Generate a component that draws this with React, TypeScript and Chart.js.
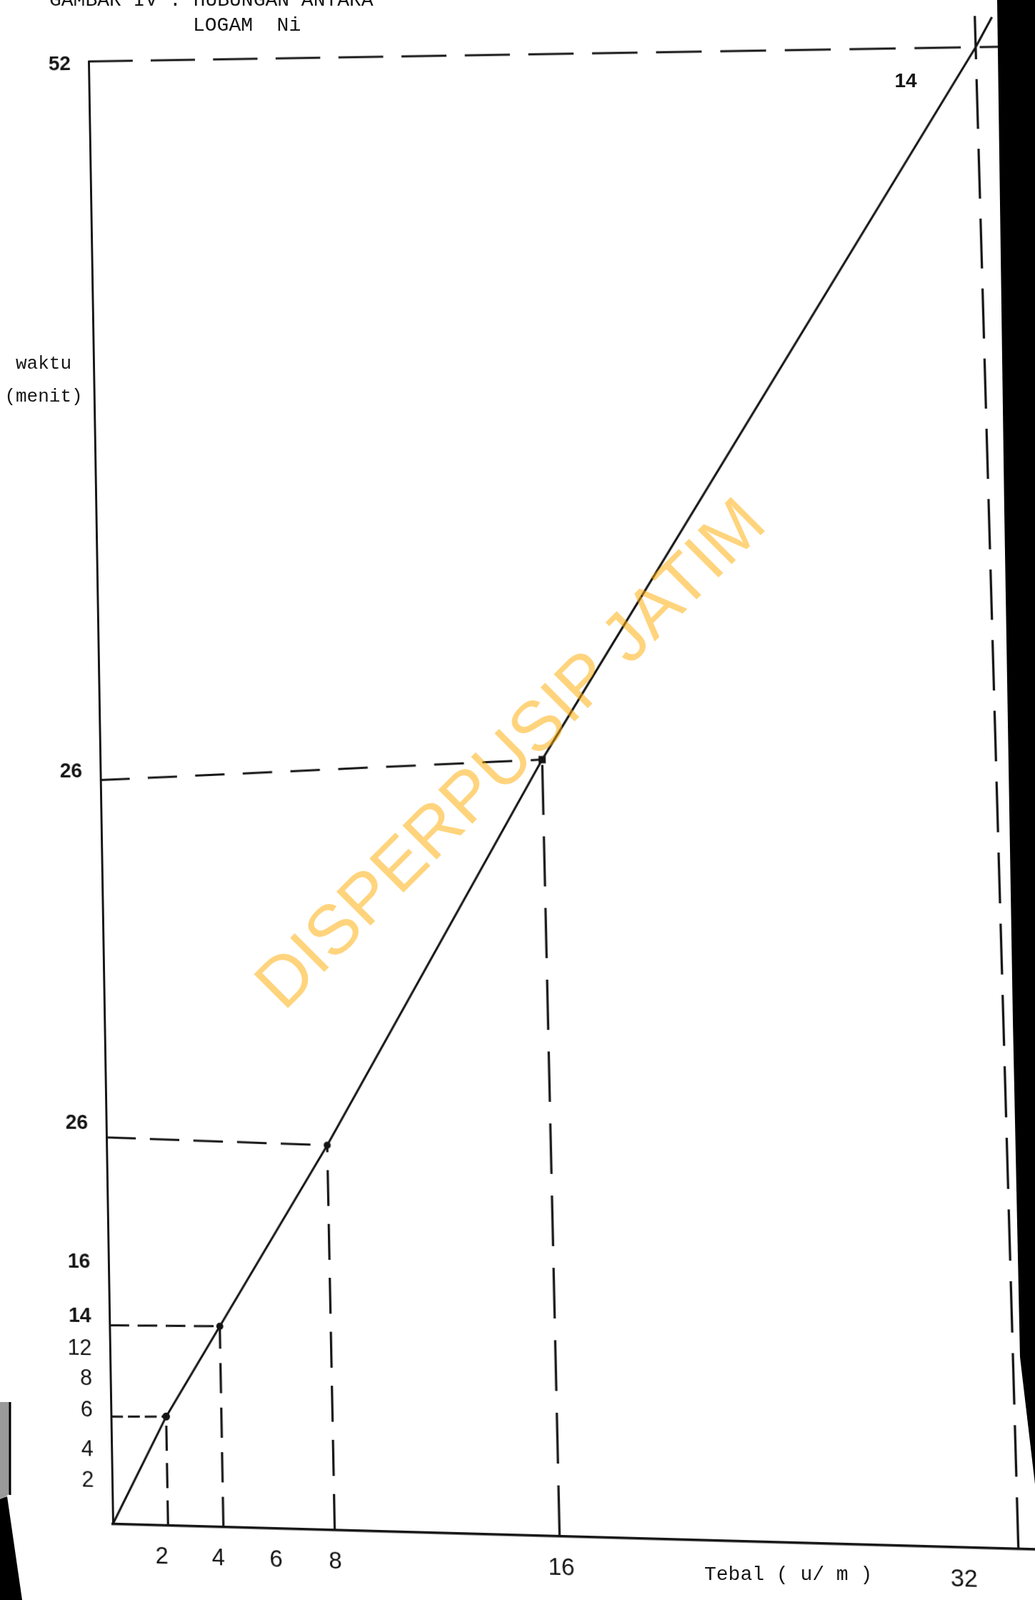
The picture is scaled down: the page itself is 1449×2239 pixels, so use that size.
import React, { useEffect, useRef } from "react";
import { Chart, registerables } from "chart.js";

Chart.register(...registerables);

// ---- values (units of the drawn grid) ----
const thickness = [0, 2, 4, 8, 16, 32]; // Tebal (u/m)
const timeLevel = [0, 3.8, 7.0, 13.4, 27.0, 52]; // height on the "waktu (menit)" axis
const lineTailX = [32, 32.6]; // the ruled line runs on a little past the last point
const lineTailY = [52, 53.05];

const guideX = [2, 4, 8, 16, 32];
const guideY = [3.8, 7.0, 13.4, 27.0, 52];
const guideYAtAxis = [3.75, 6.95, 13.55, 26.2, 52];
const guideHEnd = [2, 4, 8, 16, 33.6];
const guideVTop = [3.8, 7.0, 13.4, 27.0, 53.1];

const xTickAt = [1.76, 3.8, 5.88, 8.0, 16.04, 30.1];
const xTickLabels = ["2", "4", "6", "8", "16", "32"];
const yTickAt = [1.5, 2.56, 3.95, 5.04, 6.1, 7.24, 9.14, 14.03, 26.5, 51.9];
const yTickLabels = ["2", "4", "6", "8", "12", "14", "16", "26", "26", "52"];

// ---- styles ----
const INK = "#151515";
const hDash = [[17, 7], [28, 12], [42, 20], [42, 26], [64, 26]];
const vDash = [[35, 17], [42, 20], [50, 25], [70, 30], [70, 28]];
const NARROW = "'Liberation Sans Narrow', 'Liberation Sans', Arial, sans-serif";
const SANS = "'Liberation Sans', Arial, sans-serif";
const MONO = "'Liberation Mono', 'DejaVu Sans Mono', monospace";

// page positions of the grid corners in the scan (x=0/32, y=0/52), relaxed
// half-way toward the best-fitting parallelogram to keep the interior true
const PAGE_CORNERS = [
  [158, 2133],
  [1426, 2168],
  [124, 86],
  [1366, 66],
];

function solveHomography(src: number[][], dst: number[][]) {
  const A: number[][] = [];
  const b: number[] = [];
  for (let i = 0; i < 4; i++) {
    const [x, y] = src[i];
    const [X, Y] = dst[i];
    A.push([x, y, 1, 0, 0, 0, -x * X, -y * X]);
    b.push(X);
    A.push([0, 0, 0, x, y, 1, -x * Y, -y * Y]);
    b.push(Y);
  }
  const n = 8;
  for (let c = 0; c < n; c++) {
    let p = c;
    for (let r = c + 1; r < n; r++) if (Math.abs(A[r][c]) > Math.abs(A[p][c])) p = r;
    [A[c], A[p]] = [A[p], A[c]];
    [b[c], b[p]] = [b[p], b[c]];
    for (let r = 0; r < n; r++) {
      if (r === c) continue;
      const f = A[r][c] / A[c][c];
      for (let k = c; k < n; k++) A[r][k] -= f * A[c][k];
      b[r] -= f * b[c];
    }
  }
  return b.map((v, i) => v / A[i][i]);
}

export default function App() {
  const ref = useRef<HTMLCanvasElement>(null);

  useEffect(() => {
    const canvas = ref.current;
    if (!canvas) return;
    const datasets: any[] = [];

    guideX.forEach((gx, i) => {
      datasets.push({
        label: "h" + i,
        data: [
          { x: 0, y: guideYAtAxis[i] },
          { x: guideHEnd[i], y: guideY[i] },
        ],
        showLine: true,
        borderColor: INK,
        borderWidth: 3,
        borderDash: hDash[i],
        pointRadius: 0,
        clip: false,
      });
      datasets.push({
        label: "v" + i,
        data: [
          { x: gx, y: 0 },
          { x: gx, y: guideVTop[i] },
        ],
        showLine: true,
        borderColor: INK,
        borderWidth: 3.2,
        borderDash: vDash[i],
        pointRadius: 0,
        clip: false,
      });
    });

    datasets.push({
      label: "tail",
      data: lineTailX.map((x, i) => ({ x, y: lineTailY[i] })),
      showLine: true,
      borderColor: INK,
      borderWidth: 3,
      pointRadius: 0,
      clip: false,
    });

    datasets.push({
      label: "Tebal vs waktu",
      data: thickness.map((x, i) => ({ x, y: timeLevel[i] })),
      showLine: true,
      borderColor: INK,
      backgroundColor: INK,
      borderWidth: 3,
      pointRadius: [0, 4, 3.5, 3.5, 5, 0],
      pointStyle: ["circle", "circle", "circle", "circle", "rect", "circle"],
      clip: false,
    });

    const chart = new Chart(canvas, {
      type: "scatter",
      data: { datasets },
      options: {
        animation: false,
        responsive: false,
        events: [],
        layout: { padding: { top: 75, right: 30, left: 0, bottom: 0 } },
        plugins: { legend: { display: false }, tooltip: { enabled: false }, title: { display: false } },
        scales: {
          x: {
            type: "linear",
            min: 0,
            max: 32.6,
            afterBuildTicks: (s: any) => {
              s.ticks = xTickAt.map((v) => ({ value: v }));
            },
            afterFit: (s: any) => {
              s.height = 89;
            },
            ticks: {
              autoSkip: false,
              maxRotation: 0,
              padding: 24,
              color: INK,
              font: { family: NARROW, size: 33 },
              callback: (_v: any, i: number) => xTickLabels[i],
            },
            grid: { display: false, drawTicks: false },
            border: { display: true, color: INK, width: 3.5 },
          },
          y: {
            type: "linear",
            min: 0,
            max: 52,
            afterBuildTicks: (s: any) => {
              s.ticks = yTickAt.map((v) => ({ value: v }));
            },
            afterFit: (s: any) => {
              s.width = 141;
            },
            ticks: {
              autoSkip: false,
              padding: 26,
              color: INK,
              font: (ctx: any) =>
                ctx.index <= 4
                  ? { family: NARROW, size: 31 }
                  : { family: SANS, size: 29, weight: "bold" },
              callback: (_v: any, i: number) => yTickLabels[i],
            },
            grid: { display: false, drawTicks: false },
            border: { display: true, color: INK, width: 3 },
          },
        },
      } as any,
    });

    const sx = chart.scales.x;
    const sy = chart.scales.y;
    const src = [
      [sx.getPixelForValue(0), sy.getPixelForValue(0)],
      [sx.getPixelForValue(32), sy.getPixelForValue(0)],
      [sx.getPixelForValue(0), sy.getPixelForValue(52)],
      [sx.getPixelForValue(32), sy.getPixelForValue(52)],
    ];
    const h = solveHomography(src, PAGE_CORNERS);
    canvas.style.transformOrigin = "0 0";
    canvas.style.transform = `matrix3d(${h[0]},${h[3]},0,${h[6]},${h[1]},${h[4]},0,${h[7]},0,0,1,0,${h[2]},${h[5]},0,1)`;

    return () => chart.destroy();
  }, []);

  const text = (s: React.CSSProperties): React.CSSProperties => ({
    position: "absolute",
    color: INK,
    whiteSpace: "pre",
    lineHeight: 1,
    ...s,
  });

  return (
    <div
      style={{
        position: "absolute",
        left: 0,
        top: 0,
        width: 1449,
        height: 2239,
        overflow: "hidden",
        background: "#ffffff",
      }}
    >
      <canvas
        ref={ref}
        width={1449}
        height={2239}
        style={{ position: "absolute", left: 0, top: 0, width: 1449, height: 2239 }}
      />

      <div style={text({ left: 69, top: -13, fontFamily: MONO, fontSize: 28 })}>GAMBAR IV : HUBUNGAN ANTARA</div>
      <div style={text({ left: 270, top: 22, fontFamily: MONO, fontSize: 28 })}>LOGAM  Ni</div>
      <div style={text({ left: 61, top: 509, fontFamily: MONO, fontSize: 26, transform: "translate(-50%,-50%)" })}>waktu</div>
      <div style={text({ left: 61, top: 555, fontFamily: MONO, fontSize: 26, transform: "translate(-50%,-50%)" })}>(menit)</div>
      <div style={text({ left: 1268, top: 113, fontFamily: SANS, fontSize: 28, fontWeight: "bold", transform: "translate(-50%,-50%)" })}>14</div>
      <div style={text({ left: 986, top: 2204, fontFamily: MONO, fontSize: 28, transform: "translateY(-50%)" })}>Tebal ( u/ m )</div>

      <svg
        width={1449}
        height={2239}
        style={{ position: "absolute", left: 0, top: 0, pointerEvents: "none" }}
      >
        <polygon points="1396,0 1449,0 1449,2077 1428,1899 1418,1428 1406,714" fill="#000" />
        <polygon points="0,1962 14,1962 14,2090 0,2100" fill="#9a9a9a" />
        <line x1="14" y1="1962" x2="14" y2="2092" stroke="#000" strokeWidth="3" />
        <polygon points="0,2098 10,2094 31,2239 0,2239" fill="#000" />
      </svg>

      <div
        style={text({
          left: 713,
          top: 1053,
          fontFamily: SANS,
          fontSize: 98,
          color: "rgba(255,170,0,0.51)",
          transform: "translate(-50%,-50%) rotate(-45deg)",
        })}
      >
        DISPERPUSIP JATIM
      </div>
    </div>
  );
}
